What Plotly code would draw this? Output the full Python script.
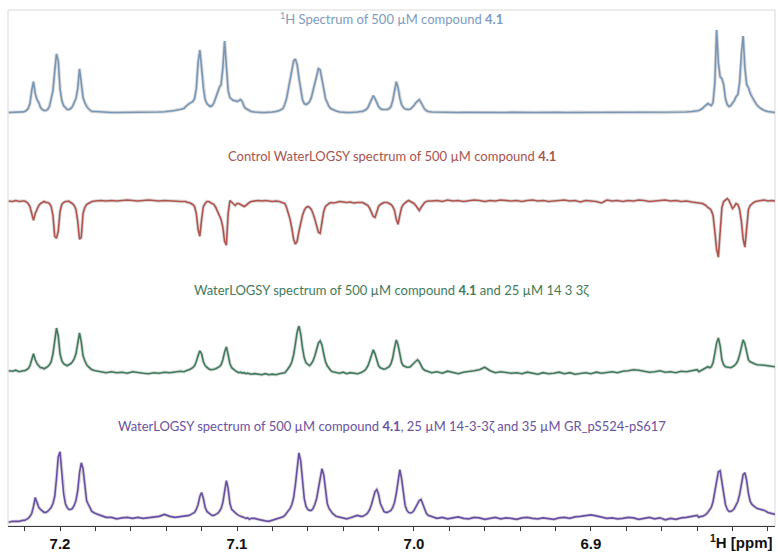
import plotly.graph_objects as go

# Chemical shift grid (ppm), shared by all four spectra
PPM = [
    7.229, 7.227, 7.225, 7.223, 7.221,
    7.220, 7.219, 7.218, 7.217, 7.216, 7.215, 7.214, 7.213, 7.212, 7.211,
    7.210, 7.209, 7.208, 7.207, 7.206, 7.205, 7.204, 7.203, 7.202, 7.201,
    7.200, 7.199, 7.198, 7.197, 7.196, 7.195, 7.194, 7.193, 7.192, 7.191,
    7.190, 7.189, 7.188, 7.187, 7.186, 7.185, 7.184, 7.183, 7.182,
    7.180, 7.177, 7.174, 7.171, 7.168, 7.165, 7.162, 7.159, 7.156, 7.153,
    7.150, 7.147, 7.144, 7.141, 7.138, 7.135, 7.132,
    7.130, 7.129, 7.128, 7.127, 7.126, 7.125, 7.124, 7.123, 7.122, 7.121,
    7.120, 7.119, 7.118, 7.117, 7.116, 7.115, 7.114, 7.113, 7.112, 7.111,
    7.110, 7.109, 7.108, 7.107, 7.106, 7.105, 7.104, 7.103, 7.102, 7.101,
    7.100, 7.099, 7.098, 7.097, 7.096, 7.095, 7.094, 7.093, 7.092,
    7.090, 7.088, 7.086, 7.084, 7.082, 7.080, 7.078, 7.076, 7.074,
    7.073, 7.072, 7.071, 7.070, 7.069, 7.068, 7.067, 7.066, 7.065, 7.064,
    7.063, 7.062, 7.061, 7.060, 7.059, 7.058, 7.057, 7.056, 7.055, 7.054,
    7.053, 7.052, 7.051, 7.050, 7.049, 7.048, 7.047, 7.046,
    7.044, 7.042, 7.040, 7.038, 7.036, 7.034, 7.032, 7.030,
    7.029, 7.028, 7.027, 7.026, 7.025, 7.024, 7.023, 7.022, 7.021, 7.020,
    7.019, 7.018, 7.017, 7.016, 7.015, 7.014, 7.013, 7.012, 7.011, 7.010,
    7.009, 7.008, 7.007, 7.006, 7.005, 7.004, 7.003, 7.002, 7.001, 7.000,
    6.999, 6.998, 6.997, 6.996, 6.995, 6.994, 6.993, 6.992,
    6.990, 6.987, 6.984, 6.981, 6.978, 6.975, 6.972, 6.969, 6.966, 6.963,
    6.960, 6.957, 6.954, 6.951, 6.948, 6.945, 6.942, 6.939, 6.936, 6.933,
    6.930, 6.927, 6.924, 6.921, 6.918, 6.915, 6.912, 6.909, 6.906, 6.903,
    6.900, 6.897, 6.894, 6.891, 6.888, 6.885, 6.882, 6.879, 6.876, 6.873,
    6.870, 6.867, 6.864, 6.861, 6.858, 6.855, 6.852, 6.849, 6.846, 6.843,
    6.840,
    6.839, 6.838, 6.837, 6.836, 6.835, 6.834, 6.833, 6.832, 6.831, 6.830,
    6.829, 6.828, 6.827, 6.826, 6.825, 6.824, 6.823, 6.822, 6.821, 6.820,
    6.819, 6.818, 6.817, 6.816, 6.815, 6.814, 6.813, 6.812, 6.811, 6.810,
    6.809, 6.808, 6.807, 6.806,
    6.804, 6.802, 6.800, 6.798, 6.796,
]

# 1H reference spectrum of 500 uM compound 4.1 (a.u.)
H1_REFERENCE = [
    0, 0, 0, 0.3, 0.6,
    1, 2, 4, 9, 22, 31, 19, 13, 10, 5, 3, 2, 2, 3, 6, 14, 22, 42, 59, 52,
    24, 12, 7, 5, 3, 3, 4, 6, 10, 14, 24, 44, 30, 15, 10, 6, 4, 2, 1,
    1, 0.5, 0.3, 0, 0, 0, 0, 0, 0, 0, 0.2, 0.3, 0.5, 0.8, 1.2, 2, 3,
    4, 6, 8, 9, 10, 11, 14, 24, 50, 63, 45, 24, 13, 9, 7, 6, 7, 10, 15, 21,
    25, 28, 45, 72, 48, 22, 15, 13, 12, 12, 11, 12, 13, 11, 6, 4, 3, 2, 1,
    0.5, 0, 0, 0, 0, 0.5, 1, 2, 4,
    8, 14, 24, 34, 44, 52, 54, 48, 35, 22, 13, 9, 8, 9, 11, 15, 22, 31, 39, 44,
    43, 35, 24, 14, 9, 6, 4, 3,
    1.5, 0.5, 0, 0, 0, 0, 0.5, 1,
    1, 2, 3, 5, 9, 14, 17, 14, 9, 6, 4, 3, 3, 3, 3, 4, 6, 12, 22, 31,
    25, 14, 8, 5, 3.5, 3, 3, 3.5, 5, 7, 10, 12, 13, 10, 6, 3.5, 2, 1,
    0.5, 0.3, 0, 0.2, 0, 0, 0.1, 0, 0, 0.2, 0, 0, 0.1, 0, 0, 0.2, 0, 0, 0.1, 0,
    0, 0.2, 0, 0, 0.1, 0, 0, 0.2, 0, 0, 0.1, 0, 0, 0.2, 0, 0, 0.1, 0, 0, 0.2,
    0, 0, 0.1, 0, 0, 0.2, 0.2, 0.3, 0.5, 1, 1.5,
    2, 3, 4, 6, 8, 9, 8, 7, 10, 30, 83, 50, 36, 34, 28, 14, 8, 6, 7, 9,
    12, 16, 18, 30, 60, 77, 45, 28, 25, 19, 16, 12, 9, 7,
    4, 2, 1, 0.5, 0,
]

# Control WaterLOGSY of 500 uM compound 4.1 (a.u.)
WLOGSY_CONTROL = [
    0.5, 0, 1, 0, 0.5,
    0.5, -0.5, -2, -5, -12, -19, -12, -7, -4, -2, -1, 0, -1, -1, -2, -5, -14, -35, -37, -30,
    -10, -3, -1, 0, 0, 0.5, -1, -2, -4, -8, -20, -38, -36, -12, -6, -3, -2, -1, 0,
    0.5, 1, 0.5, 1, 0.5, 1, 1.5, 1, 0.5, 1, 1.5, 1, 0.5, 1, 0.5, 0, 0,
    0, 0, -1, -1, -2, -3, -5, -12, -28, -35, -18, -5, -2, 0, 0, -1, -2, -3, -6, -10,
    -14, -18, -26, -40, -44, -12, 1, -1, -3, -4, -2, -2, -3, -4, -5, -4, -2, -1, 0,
    0.5, 1, 0.5, 1, 0.5, 0, 0.5, 0, -1.5,
    -2, -6, -11, -18, -27, -38, -43, -40, -30, -20, -14, -9, -6, -5, -6, -8, -12, -18, -25, -31,
    -32, -22, -10, -5, -3, -2, -1, -1.5,
    -1, 0, -0.5, -1, -0.5, -1.5, -1, -1,
    -1, -2, -3, -4, -7, -11, -15, -16, -10, -5, -3, -2, -1, -1, -1, -2, -3, -5, -9, -18,
    -23, -14, -6, -3, -1, 0, 1, 0, -1, -2, -4, -7, -9, -6, -3, -1, 0, 0.5,
    0.5, 1, 0, 1.5, 0.5, 1, 0, 0.5, 1.5, 1, 0, 1, 0.5, 1.5, 1, 0.5, 1, 0, 1, 1.5,
    0.5, 1, 0, 0.5, 1, 1.5, 0.5, 1, -0.5, 1, 0.5, 0, -1.5, 1.5, 0.5, 1, 0, 1, 0.5, 1.5,
    1, 0, 0.5, 1, 1.5, 0.5, 1, 0, 0.5, -0.5, -1,
    -1, -1.5, -2, -3, -4, -6, -7, -9, -14, -30, -48, -56, -25, -6, 0, 2, 3, 1, -3, -7,
    -5, -2, -3, -8, -20, -38, -46, -25, -8, -4, -2, -1, 0, 0.5,
    1, 1.5, 0.5, 1, 0.5,
]

# WaterLOGSY with 25 uM 14-3-3 zeta (a.u.)
WLOGSY_PROTEIN = [
    1, 0.5, 1.5, 0, 1,
    1, 2, 3, 6, 12, 18, 12, 8, 6, 4, 4, 3, 4, 5, 7, 10, 18, 33, 44, 36,
    18, 11, 8, 7, 6, 7, 8, 10, 13, 18, 29, 39, 30, 16, 11, 7, 5, 3, 2,
    1, 0, -1, 0, -1, -0.5, -1.5, 0, -1, -1.5, -2, -1, -1.5, -0.5, -1, 0, 0.5,
    0, 1, 1.5, 2, 3, 4, 6, 10, 16, 21, 18, 10, 6, 4, 3, 2, 2, 2.5, 3, 4,
    5, 7, 12, 20, 25, 17, 8, 4, 2, 1, 0, -1, -0.5, -1.5, -1, -2, -1.5, -2, -2.5,
    -2, -2.5, -3, -2, -3, -2.5, -3, -2, -1.5,
    -1, 1, 3, 6, 10, 17, 28, 40, 46, 38, 24, 14, 9, 7, 6, 8, 11, 16, 23, 29,
    31, 27, 18, 10, 6, 3, 1, 0,
    -1, -1.5, -0.5, -2, -1, -1.5, -2, -1,
    0, 1, 3, 6, 11, 18, 22, 18, 11, 6, 4, 3, 2.5, 3, 4, 5, 8, 14, 24, 32,
    27, 16, 9, 6, 5, 4.5, 4.5, 5, 7, 9, 11, 12, 10, 6, 3, 1.5, 1, 0,
    -1, 0, -1.5, 0.5, -1, -2, -0.5, 0, 1, 2, 4.5, 1, -1, 0, -0.5, -1.5, -1, -2, -0.5, -1.5,
    -2.5, -1, -2, -1.5, -0.5, -2, -1, -2.5, -1.5, -1, -2, -0.5, -1.5, -1, 0, -1, 0.5, 1, 2, 1.5,
    0.5, -0.5, 0, 1, -0.5, 0, -1, 0.5, 0, 1, 2,
    0, 1, 2, 3, 4, 5, 4, 5, 9, 18, 29, 34, 26, 12, 7, 5, 4.5, 4, 4, 5,
    6, 8, 11, 17, 26, 32, 28, 18, 12, 10, 9, 8, 7.5, 7,
    7, 6.5, 6, 5.5, 5,
]

# WaterLOGSY with 25 uM 14-3-3 zeta and 35 uM GR_pS524-pS617 (a.u.)
WLOGSY_PEPTIDE = [
    -4, -3, -3, -3, -2,
    -2, -1, 0, 2, 5, 12, 21, 16, 11, 9, 7, 6, 6, 7, 9, 11, 15, 22, 40, 62,
    67, 48, 25, 15, 11, 9, 9, 10, 13, 18, 28, 46, 56, 50, 30, 18, 14, 10, 7,
    5, 3, 1, 1, -0.5, 0.5, 1, 0, 1, 0, 0.5, 1.5, 2, 4, 2, 1, 1.5,
    2, 2, 2.5, 3, 4, 5, 6, 9, 14, 22, 26, 20, 11, 7, 5, 4, 3, 3, 4, 5,
    7, 10, 16, 28, 38, 30, 15, 9, 7, 6, 4, 3, 2, 1.5, 1, 0, 0.5, -1, 0,
    0, -1, -2, -2.5, -3, -2, -1, 0, 1.5,
    3, 5, 7, 10, 14, 21, 34, 54, 66, 58, 38, 20, 12, 9, 8, 8, 10, 14, 20, 30,
    43, 50, 44, 28, 15, 10, 7, 5,
    2, 1, 0, -0.5, 0.5, 1.5, 3, 2,
    2, 3, 4, 6, 9, 14, 21, 27, 29, 24, 15, 10, 7, 6, 6, 7, 8, 11, 16, 25,
    40, 49, 40, 24, 13, 8, 6, 5.5, 6, 8, 11, 15, 18, 19, 14, 8, 5, 3,
    2, 0, 1, -0.5, 0.5, 1.5, 0, -0.5, 1, 0.5, -1, 0, 1, -0.5, 0.5, 0, -1, 0.5, 1, 0,
    -0.5, 0.5, 0, -1, 0.5, 1, 0, 1.5, 2, 3, 3.5, 2.5, 1, 0, 0.5, -0.5, 0, 1, 0.5, -1,
    0, 1, -0.5, 0.5, -1.5, 0, -1, 0.5, 1, 2, 3,
    1, 2, 2, 3, 4, 6, 8, 11, 17, 28, 40, 47, 48, 38, 24, 14, 9, 7, 7, 8,
    10, 13, 17, 24, 34, 44, 46, 38, 25, 17, 14, 12, 11, 10,
    9, 8, 6, 5, 4,
]

TICK_VALS = [7.2, 7.1, 7.0, 6.9]
TICK_TEXT = ["7.2", "7.1", "7.0", "6.9"]

SPECTRA = [
    (H1_REFERENCE, "#7896b8", "#7d9bbf",
     "<sup>1</sup>H Spectrum of 500 µM compound <b>4.1</b>"),
    (WLOGSY_CONTROL, "#b3534d", "#a9534e",
     "Control WaterLOGSY spectrum of 500 µM compound <b>4.1</b>"),
    (WLOGSY_PROTEIN, "#3e7b5b", "#3f7a5c",
     "WaterLOGSY spectrum of 500 µM compound <b>4.1</b> and 25 µM 14 3 3ζ"),
    (WLOGSY_PEPTIDE, "#6a4ea6", "#6a52a2",
     "WaterLOGSY spectrum of 500 µM compound <b>4.1</b>, 25 µM 14-3-3ζ and 35 µM GR_pS524-pS617"),
]

# vertical stacking: value ranges of the four overlaid intensity axes
Y_RANGES = [(-416.7, 103.3), (-327.0, 193.0), (-155.5, 364.5), (-7.7, 512.3)]
TITLE_Y = [0.983, 0.717, 0.458, 0.194]

fig = go.Figure()
annotations = []
for i, (vals, line_col, text_col, title) in enumerate(SPECTRA):
    axis_id = "y" if i == 0 else f"y{i + 1}"
    # soft grey rim under each trace
    fig.add_trace(go.Scatter(
        x=PPM, y=vals, mode="lines", yaxis=axis_id,
        line=dict(color="rgba(150,150,150,0.35)", width=3.4),
        hoverinfo="skip", showlegend=False,
    ))
    fig.add_trace(go.Scatter(
        x=PPM, y=vals, mode="lines", yaxis=axis_id,
        line=dict(color=line_col, width=1.6),
        hoverinfo="skip", showlegend=False,
    ))
    annotations.append(dict(
        text=title, xref="paper", yref="paper", x=0.5, y=TITLE_Y[i],
        xanchor="center", yanchor="middle", showarrow=False,
        font=dict(family="Lato, Open Sans, sans-serif", size=13, color=text_col),
    ))

annotations.append(dict(
    text="<sup>1</sup>H [ppm]", xref="paper", yref="paper",
    x=1.0, y=-0.03, xanchor="right", yanchor="middle", showarrow=False,
    font=dict(family="Liberation Sans, Arial, sans-serif", size=15,
              color="#111111", weight="bold"),
))

layout = dict(
    width=778, height=555,
    margin=dict(l=8, r=3, t=10, b=25),
    paper_bgcolor="white", plot_bgcolor="white",
    xaxis=dict(
        range=[7.2294, 6.7960], showgrid=False, zeroline=False,
        showline=True, linecolor="#3a3a3a", linewidth=1,
        ticks="outside", ticklen=4, tickcolor="#3a3a3a",
        tickvals=TICK_VALS, ticktext=TICK_TEXT,
        tickfont=dict(family="Liberation Sans, Arial, sans-serif", size=15,
                      color="#111111", weight="bold"),
        minor=dict(tickmode="linear", tick0=7.2, dtick=0.02, ticks="outside",
                   ticklen=4, tickcolor="#3a3a3a", showgrid=False),
    ),
    shapes=[dict(type="rect", xref="paper", yref="paper", x0=0, x1=1, y0=0, y1=1,
                 line=dict(color="#d9d9d9", width=1), layer="below")],
    annotations=annotations,
)
for i, rng in enumerate(Y_RANGES):
    key = "yaxis" if i == 0 else f"yaxis{i + 1}"
    ax = dict(range=list(rng), visible=False, showgrid=False, zeroline=False)
    if i > 0:
        ax["overlaying"] = "y"
    layout[key] = ax

fig.update_layout(**layout)
fig.write_html("out.html")
